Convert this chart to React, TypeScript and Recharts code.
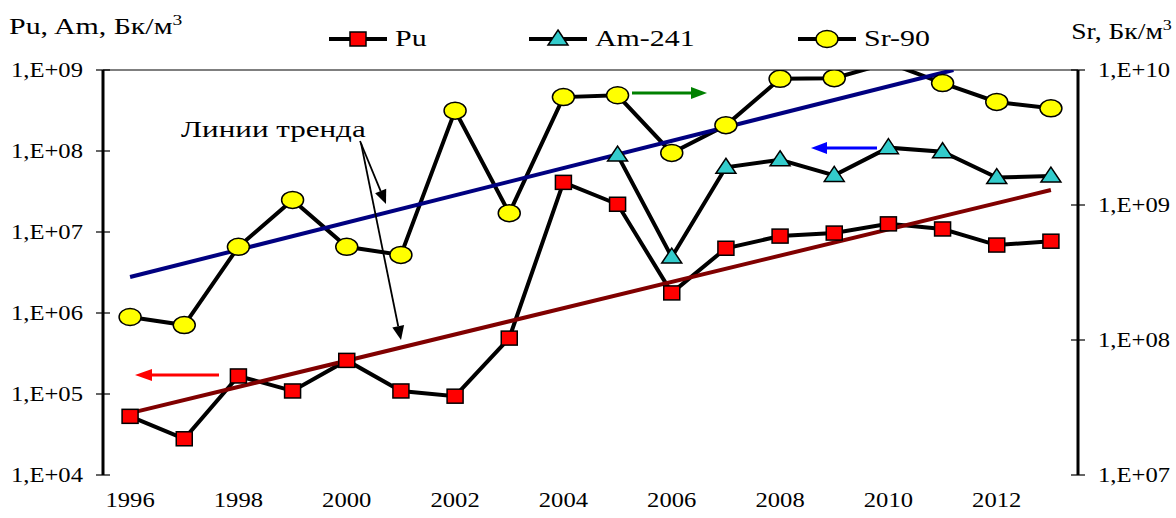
import { LineChart, Line, XAxis, YAxis, ReferenceLine } from 'recharts';

const FONT = 'Liberation Serif, serif';

// measured values per year
const years = [1996, 1997, 1998, 1999, 2000, 2001, 2002, 2003, 2004, 2005, 2006, 2007, 2008, 2009, 2010, 2011, 2012, 2013];
const pu = [5.3e4, 2.8e4, 1.67e5, 1.09e5, 2.6e5, 1.09e5, 9.4e4, 4.9e5, 4.1e7, 2.2e7, 1.77e6, 6.3e6, 8.9e6, 9.7e6, 1.26e7, 1.09e7, 6.9e6, 7.7e6];
const am = [null, null, null, null, null, null, null, null, null, 8.9e7, 4.9e6, 6.3e7, 7.8e7, 5.0e7, 1.1e8, 9.8e7, 4.7e7, 4.9e7];
const sr = [1.48e8, 1.29e8, 4.9e8, 1.09e9, 4.9e8, 4.27e8, 5.0e9, 8.7e8, 6.3e9, 6.5e9, 2.43e9, 3.9e9, 8.6e9, 8.7e9, 1.13e10, 8.0e9, 5.8e9, 5.2e9];

// trend lines (start / end points)
const trendSrYears = [1996, 2011.2];
const trendSr = [2.93e8, 1e10];
const trendPuYears = [1996, 2013];
const trendPu = [5.8e4, 3.3e7];

// axes
const leftTicks = [1e4, 1e5, 1e6, 1e7, 1e8, 1e9];
const rightTicks = [1e7, 1e8, 1e9, 1e10];
const yearLabels = [1996, 1998, 2000, 2002, 2004, 2006, 2008, 2010, 2012];
const yearBounds = [...years.map(y => y - 0.5), 2013.5];

const data = years.map((year, i) => ({ year, pu: pu[i], am: am[i], sr: sr[i] }));
const srTrendData = trendSrYears.map((year, i) => ({ year, v: trendSr[i] }));
const puTrendData = trendPuYears.map((year, i) => ({ year, v: trendPu[i] }));

const SX = 1.12; // the original text is a little wider than Liberation Serif

const fmt = (v: number) => {
  const e = Math.round(Math.log10(v));
  return `1,E+${String(e).padStart(2, '0')}`;
};

const WideText = ({ x, y, anchor, children, size = 22, sx = SX }: any) => (
  <text
    transform={`translate(${x},${y}) scale(${sx},1)`}
    textAnchor={anchor}
    fontSize={size}
    fontFamily={FONT}
    fill="#000"
  >
    {children}
  </text>
);

const LeftTick = ({ x, y, payload }: any) => (
  <g>
    <line x1={x - 7} x2={x + 7} y1={y} y2={y} stroke="#000" strokeWidth={1.2} />
    <WideText x={x - 20} y={y + 7} anchor="end">{fmt(payload.value)}</WideText>
  </g>
);

const RightTick = ({ x, y, payload }: any) => (
  <g>
    <line x1={x - 7} x2={x + 7} y1={y} y2={y} stroke="#000" strokeWidth={1.2} />
    <WideText x={x + 20} y={y + 7} anchor="start">{fmt(payload.value)}</WideText>
  </g>
);

const XMark = ({ x, y }: any) => (
  <line x1={x} x2={x} y1={y - 7} y2={y + 8} stroke="#000" strokeWidth={1.2} />
);

const XLabel = ({ x, y, payload }: any) => (
  <WideText x={x} y={y + 32} anchor="middle">{payload.value}</WideText>
);

const SquareDot = (p: any) => {
  if (p.cy == null || p.value == null) return <g key={p.index} />;
  return <rect key={p.index} x={p.cx - 8} y={p.cy - 7} width={16} height={14} fill="#ff0000" stroke="#000" strokeWidth={1.5} />;
};

const TriDot = (p: any) => {
  if (p.cy == null || p.value == null) return <g key={p.index} />;
  const { cx, cy } = p;
  return (
    <polygon
      key={p.index}
      points={`${cx},${cy - 9} ${cx + 10},${cy + 6} ${cx - 10},${cy + 6}`}
      fill="#33cccc"
      stroke="#000"
      strokeWidth={1.5}
    />
  );
};

// markers above the axis maximum are hidden, as in the original
const EllipseDot = (p: any) => {
  if (p.cy == null || p.value == null || p.value > 1e10) return <g key={p.index} />;
  return <ellipse key={p.index} cx={p.cx} cy={p.cy} rx={11} ry={8.5} fill="#ffff00" stroke="#000" strokeWidth={1.5} />;
};

const Arrow = ({ x1, y1, x2, y2, color, width = 2, head = 14, hw = 6 }: any) => {
  const dx = x2 - x1;
  const dy = y2 - y1;
  const len = Math.sqrt(dx * dx + dy * dy);
  const ux = dx / len;
  const uy = dy / len;
  const bx = x2 - ux * head;
  const by = y2 - uy * head;
  return (
    <g>
      <line x1={x1} y1={y1} x2={bx} y2={by} stroke={color} strokeWidth={width} />
      <polygon points={`${x2},${y2} ${bx - uy * hw},${by + ux * hw} ${bx + uy * hw},${by - ux * hw}`} fill={color} />
    </g>
  );
};

const LegendItem = ({ left, label, marker }: any) => (
  <div style={{ position: 'absolute', left, top: 25, display: 'flex', alignItems: 'center', height: 28 }}>
    <svg width={58} height={28}>
      <line x1={0} x2={58} y1={14} y2={14} stroke="#000" strokeWidth={4} />
      {marker}
    </svg>
    <span style={{ fontSize: 23, marginLeft: 8, display: 'inline-block', transform: 'scale(1.3,1)', transformOrigin: 'left center' }}>
      {label}
    </span>
  </div>
);

export default function App() {
  return (
    <div style={{ position: 'absolute', left: 0, top: 0, width: 1176, height: 518, background: '#fff', fontFamily: FONT }}>
      <LineChart width={1176} height={518} data={data} margin={{ top: 70, right: 0, left: 0, bottom: 0 }}>
        <XAxis
          xAxisId="m"
          dataKey="year"
          type="number"
          domain={[1995.5, 2013.5]}
          ticks={yearBounds}
          height={0}
          tickSize={0}
          tickMargin={0}
          interval={0}
          axisLine={{ stroke: '#000', strokeWidth: 3 }}
          tick={<XMark />}
        />
        <XAxis
          xAxisId="lbl"
          dataKey="year"
          type="number"
          domain={[1995.5, 2013.5]}
          ticks={yearLabels}
          height={43}
          tickSize={0}
          tickMargin={0}
          interval={0}
          axisLine={false}
          tickLine={false}
          tick={<XLabel />}
        />
        <YAxis
          yAxisId="left"
          type="number"
          scale="log"
          domain={[1e4, 1e9]}
          ticks={leftTicks}
          allowDataOverflow
          width={103}
          tickSize={0}
          tickMargin={0}
          interval={0}
          axisLine={{ stroke: '#000', strokeWidth: 3 }}
          tick={<LeftTick />}
        />
        <YAxis
          yAxisId="right"
          orientation="right"
          type="number"
          scale="log"
          domain={[1e7, 1e10]}
          ticks={rightTicks}
          allowDataOverflow
          width={98}
          tickSize={0}
          tickMargin={0}
          interval={0}
          axisLine={{ stroke: '#000', strokeWidth: 3 }}
          tick={<RightTick />}
        />
        <ReferenceLine yAxisId="left" xAxisId="m" y={1e9} stroke="#000" strokeWidth={1.2} />
        <Line xAxisId="m" yAxisId="right" dataKey="sr" stroke="#000" strokeWidth={4} dot={EllipseDot} isAnimationActive={false} />
        <Line xAxisId="m" yAxisId="left" dataKey="am" stroke="#000" strokeWidth={4} dot={TriDot} isAnimationActive={false} />
        <Line xAxisId="m" yAxisId="left" dataKey="pu" stroke="#000" strokeWidth={4} dot={SquareDot} isAnimationActive={false} />
        <Line xAxisId="m" yAxisId="right" data={srTrendData} dataKey="v" stroke="#000080" strokeWidth={4} dot={false} isAnimationActive={false} />
        <Line xAxisId="m" yAxisId="left" data={puTrendData} dataKey="v" stroke="#800000" strokeWidth={4} dot={false} isAnimationActive={false} />
      </LineChart>

      <svg width={1176} height={518} style={{ position: 'absolute', left: 0, top: 0, pointerEvents: 'none' }}>
        <WideText x={181} y={137} anchor="start" size={23} sx={1.35}>Линии тренда</WideText>
        <Arrow x1={360} y1={141} x2={386} y2={204} color="#000" width={1.8} head={14} hw={6} />
        <Arrow x1={361} y1={143} x2={401} y2={340} color="#000" width={1.8} head={14} hw={6} />
        <Arrow x1={219} y1={375} x2={135} y2={375} color="#ff0000" width={3} head={17} hw={6} />
        <Arrow x1={632} y1={93} x2={707} y2={93} color="#008000" width={3} head={16} hw={6} />
        <Arrow x1={877} y1={148} x2={811} y2={148} color="#0000ff" width={3} head={16} hw={6} />
      </svg>

      <div style={{ position: 'absolute', left: 9, top: 12, fontSize: 23, whiteSpace: 'nowrap', transform: 'scale(1.3,1)', transformOrigin: 'left top' }}>
        Pu, Am, Бк/м<sup style={{ fontSize: 15 }}>3</sup>
      </div>
      <div style={{ position: 'absolute', right: 4, top: 17, fontSize: 23, whiteSpace: 'nowrap', transform: 'scale(1.2,1)', transformOrigin: 'right top' }}>
        Sr, Бк/м<sup style={{ fontSize: 15 }}>3</sup>
      </div>

      <LegendItem
        left={329}
        label="Pu"
        marker={<rect x={21} y={7} width={16} height={14} fill="#ff0000" stroke="#000" strokeWidth={1.5} />}
      />
      <LegendItem
        left={529}
        label="Am-241"
        marker={<polygon points="29,5 39,20 19,20" fill="#33cccc" stroke="#000" strokeWidth={1.5} />}
      />
      <LegendItem
        left={798}
        label="Sr-90"
        marker={<ellipse cx={29} cy={14} rx={11} ry={8.5} fill="#ffff00" stroke="#000" strokeWidth={1.5} />}
      />
    </div>
  );
}
